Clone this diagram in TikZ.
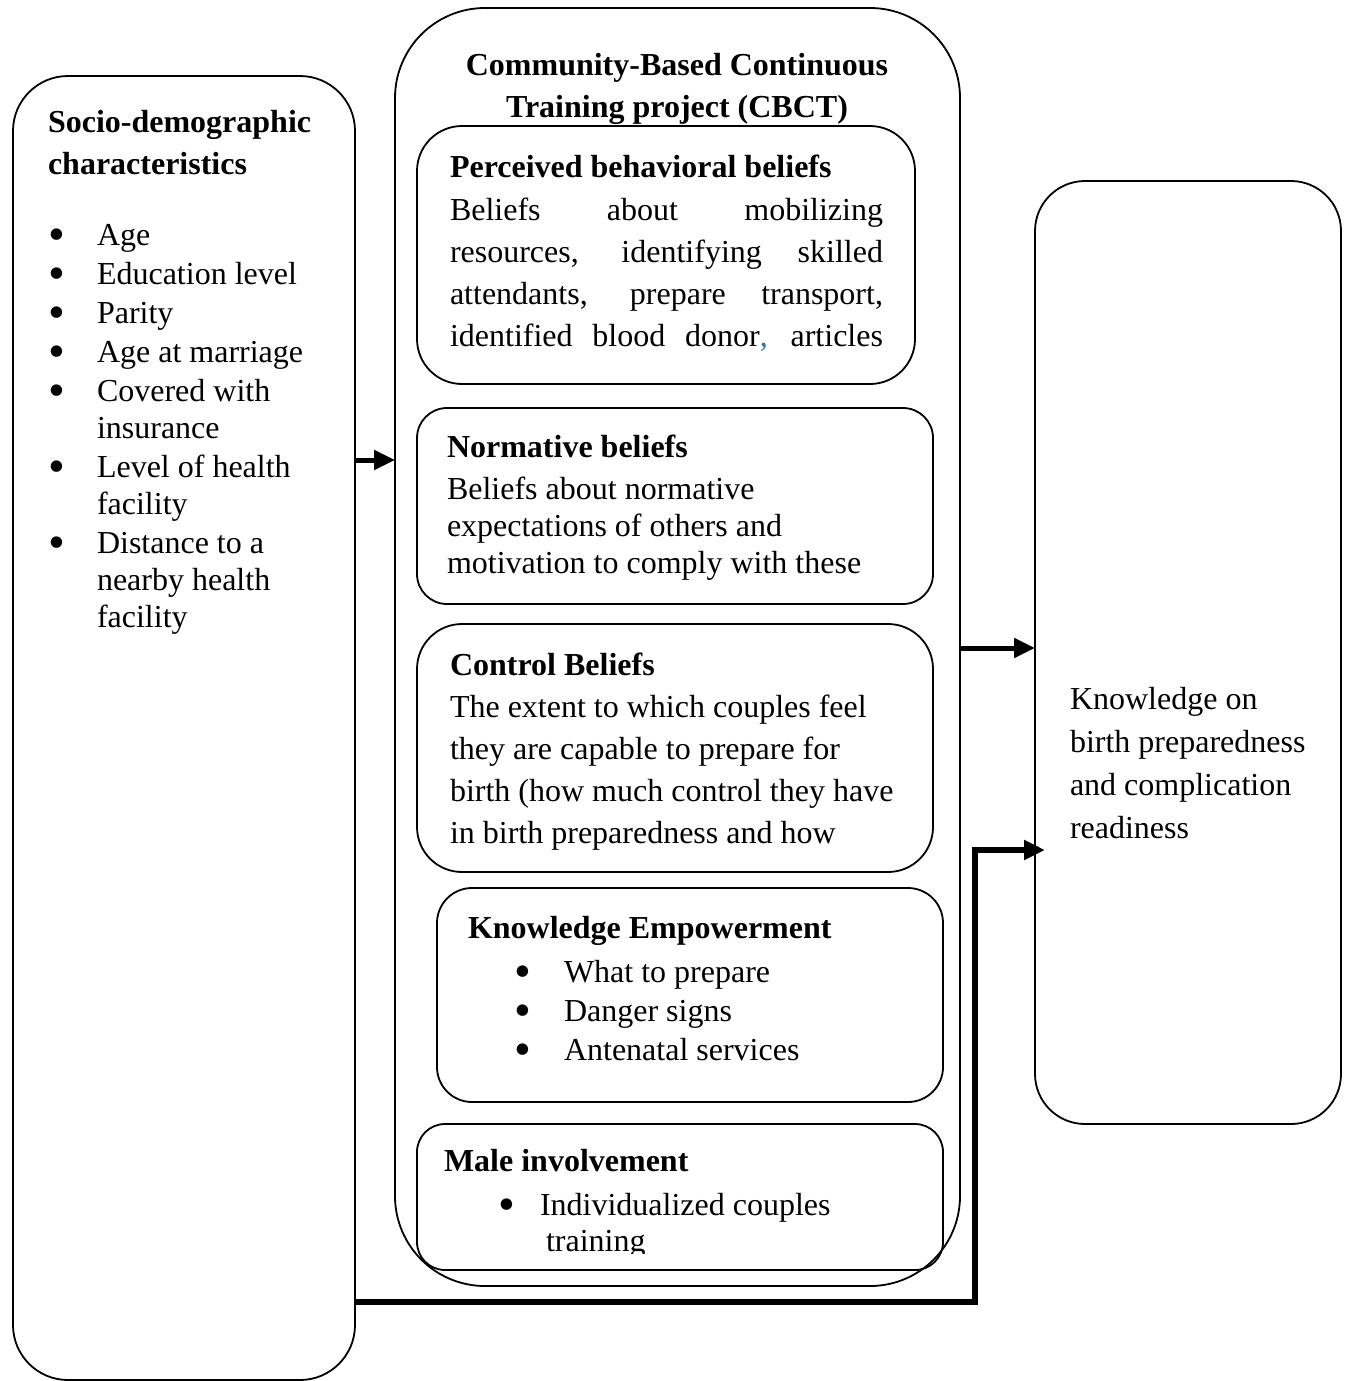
\documentclass[tikz,border=0pt]{standalone}
\usepackage{fontspec}
\setmainfont{Liberation Serif}
\usetikzlibrary{arrows.meta}
\definecolor{commablue}{RGB}{40,120,150}
\newcommand{\mlines}[1]{\begin{tabular}[t]{@{}l@{}}#1\end{tabular}}
\newcommand{\mlinesc}[1]{\begin{tabular}[t]{@{}c@{}}#1\end{tabular}}
\newcommand{\bigbul}{\smash{\raisebox{-5pt}{\fontsize{48}{48}\selectfont\textbullet}}}
\begin{document}
\begin{tikzpicture}[x=1pt,y=-1pt,
  frame/.style={draw, line width=1.8pt, rectangle, inner sep=0pt, outer sep=0pt},
  txt/.style={anchor=base west, inner sep=0pt, outer sep=0pt, font=\fontsize{32}{39}\selectfont},
  hd/.style={txt, font=\fontsize{32}{42}\selectfont\bfseries},
  arr/.style={line width=5pt, -{Triangle[length=21pt,width=19pt]}},
]
\useasboundingbox (0,0) rectangle (1344,1381);
% boxes
\node[frame, rounded corners=55pt, minimum width=342pt, minimum height=1304pt] (socio) at (184,728) {};
\node[frame, rounded corners=90pt, minimum width=565pt, minimum height=1278pt] (cbct) at (677.5,647) {};
\node[frame, rounded corners=45pt, minimum width=498pt, minimum height=258pt] (perc) at (666,255) {};
\node[frame, rounded corners=30pt, minimum width=516pt, minimum height=196pt] (norm) at (675,506) {};
\node[frame, rounded corners=45pt, minimum width=516pt, minimum height=248pt] (ctrl) at (675,748) {};
\node[frame, rounded corners=35pt, minimum width=506pt, minimum height=214pt] (know) at (690,995) {};
\node[frame, rounded corners=28pt, minimum width=526pt, minimum height=146pt] (male) at (680,1197) {};
\node[frame, rounded corners=50pt, minimum width=306pt, minimum height=943pt] (outcome) at (1188,652.5) {};
% connectors
\draw[arr] (socio.east |- 0,460) -- (cbct.west |- 0,460);
\draw[arr] (cbct.east |- 0,648) -- (outcome.west |- 0,648);
\coordinate (bend) at (975,850);
\draw[arr, line width=6pt] (socio.east |- 0,1302) -| (bend) -- ([xshift=10pt]outcome.west |- bend);
% left box text
\node[hd] (sdt) at (48,132) {\mlines{Socio-demographic\\characteristics}};
\foreach \y/\t [count=\i] in {245/Age, 284/Education level, 323/Parity, 362/Age at marriage, 401/{Covered with\\insurance}, 477/{Level of health\\facility}, 553/{Distance to a\\nearby health\\facility}} {
  \node[txt, anchor=base] (sbb\i) at (57,\y) {\bigbul};
  \node[txt, font=\fontsize{32}{37}\selectfont] (sbt\i) at (97,\y) {\mlines{\t}};
}
% CBCT title
\node[hd, anchor=base] (cbctt) at (677,75) {\mlinesc{Community-Based Continuous\\Training project (CBCT)}};
% perceived
\node[hd] (perch) at (450,177) {Perceived behavioral beliefs};
\node[txt, font=\fontsize{32}{42}\selectfont] (perct) at (450,220) {\mlines{\makebox[433pt][s]{Beliefs about mobilizing}\\\makebox[433pt][s]{resources, identifying skilled}\\\makebox[433pt][s]{attendants, prepare transport,}\\\makebox[433pt][s]{identified blood donor{\color{commablue},} articles}}};
% normative
\node[hd] (normh) at (447,457) {Normative beliefs};
\node[txt, font=\fontsize{32}{37}\selectfont] (normt) at (447,499) {\mlines{Beliefs about normative\\expectations of others and\\motivation to comply with these}};
% control
\node[hd] (ctrlh) at (450,675) {Control Beliefs};
\node[txt, font=\fontsize{32}{42}\selectfont] (ctrlt) at (450,717) {\mlines{The extent to which couples feel\\they are capable to prepare for\\birth (how much control they have\\in birth preparedness and how}};
% knowledge
\node[hd] (knowh) at (468,938) {Knowledge Empowerment};
\foreach \y/\t [count=\i] in {982/What to prepare, 1021/Danger signs, 1060/Antenatal services} {
  \node[txt, anchor=base] (kbb\i) at (523,\y) {\bigbul};
  \node[txt] (kbt\i) at (564,\y) {\t};
}
% male
\node[hd] (maleh) at (444,1171) {Male involvement};
\node[txt, anchor=base] (mbb) at (507,1215) {\bigbul};
\node[txt] (mbt) at (540,1215) {Individualized couples};
\begin{scope}
\clip (0,0) rectangle (1344,1253);
\node[txt] (mbt2) at (546,1251) {training};
\end{scope}
% outcome
\node[txt, font=\fontsize{32}{43}\selectfont] (outt) at (1070,709) {\mlines{Knowledge on\\birth preparedness\\and complication\\readiness}};
\end{tikzpicture}
\end{document}
